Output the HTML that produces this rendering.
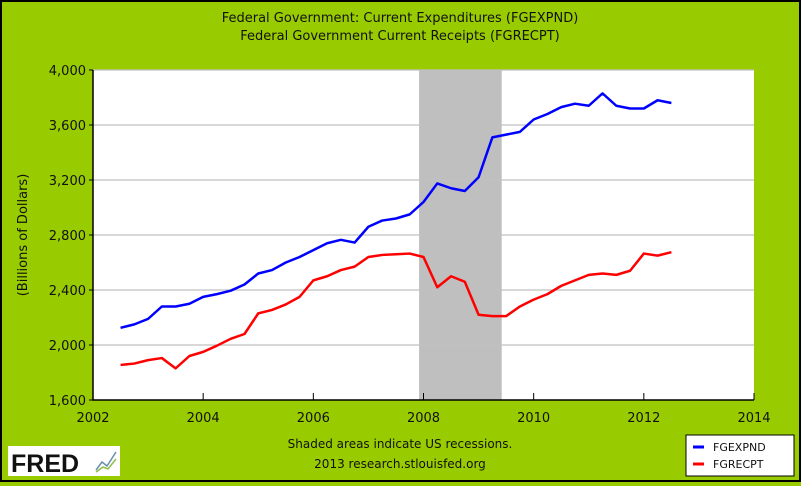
<!DOCTYPE html>
<html><head><meta charset="utf-8"><style>
html,body{margin:0;padding:0}
body{width:801px;height:482px;overflow:hidden;background:#99cc00;font-family:"DejaVu Sans","Liberation Sans",sans-serif}
</style></head><body>
<svg width="801" height="482" xmlns="http://www.w3.org/2000/svg">
<rect x="1" y="1" width="799" height="480" fill="#99cc00" stroke="#000" stroke-width="2"/>
<text x="400" y="22" text-anchor="middle" font-size="13" fill="#111">Federal Government: Current Expenditures (FGEXPND)</text>
<text x="400" y="40" text-anchor="middle" font-size="13" fill="#111">Federal Government Current Receipts (FGRECPT)</text>
<g id="plot"></g>
<text x="400" y="448" text-anchor="middle" font-size="12" fill="#111">Shaded areas indicate US recessions.</text>
<text x="400" y="468" text-anchor="middle" font-size="12" fill="#111">2013 research.stlouisfed.org</text>
<g>
<rect x="8" y="446" width="112" height="30" fill="#fff"/>
<text x="11" y="472" font-size="25" font-weight="bold" fill="#111" font-family="Liberation Sans,sans-serif">FRED</text>
<polyline points="96,470 102,462 107,466 116,452" fill="none" stroke="#6a8fb0" stroke-width="1.5"/>
<polyline points="96,472 103,467 108,469 116,459" fill="none" stroke="#8cbf4a" stroke-width="1.5"/>
</g>
<g>
<rect x="686" y="435" width="108" height="41" fill="#fff" stroke="#000"/>
<line x1="693" y1="447" x2="704" y2="447" stroke="#0000ff" stroke-width="3"/>
<text x="713" y="451" font-size="11" fill="#111">FGEXPND</text>
<line x1="693" y1="464" x2="704" y2="464" stroke="#ff0000" stroke-width="3"/>
<text x="713" y="468" font-size="11" fill="#111">FGRECPT</text>
</g>
</svg>
<script>
const startYear = 2002.5;
const step = 0.25;
const expenditures = [2125,2150,2190,2280,2280,2300,2350,2370,2395,2440,2520,2545,2600,2640,2690,2740,2765,2745,2860,2905,2920,2950,3040,3175,3140,3120,3220,3510,3530,3550,3640,3680,3730,3755,3740,3830,3740,3720,3720,3780,3760];
const receipts = [1855,1865,1890,1905,1830,1920,1950,1995,2045,2080,2230,2255,2295,2350,2470,2500,2545,2570,2640,2655,2660,2665,2640,2420,2500,2460,2220,2210,2210,2280,2330,2370,2430,2470,2510,2520,2510,2540,2665,2650,2675];
const yTicks = [1600,2000,2400,2800,3200,3600,4000];
const xTicks = [2002,2004,2006,2008,2010,2012,2014];
const recession = [2007.92,2009.42];

const NS='http://www.w3.org/2000/svg';
const X0=93,X1=754,Y0=400,Y1=70;
const x=v=>X0+(v-2002)/(2014-2002)*(X1-X0);
const y=v=>Y0-(v-1600)/(4000-1600)*(Y0-Y1);
const g=document.getElementById('plot');
function mk(t,a){const e=document.createElementNS(NS,t);for(const k in a)e.setAttribute(k,a[k]);g.appendChild(e);return e;}
const bg=mk('rect',{x:X0,y:Y1,width:X1-X0,height:Y0-Y1,fill:'#fff'});


const rec=mk('rect',{x:x(recession[0]),y:Y1,width:x(recession[1])-x(recession[0]),height:Y0-Y1,fill:'#bfbfbf'});


yTicks.forEach(v=>{
  if(v>1600){const l=mk('line',{x1:X0,x2:X1,y1:y(v),y2:y(v),stroke:'#c0c0c0','stroke-width':1.2});
  
  }
  const tk=mk('line',{x1:X0-4,x2:X0,y1:y(v),y2:y(v),stroke:'#000'});
  
  
  const t=mk('text',{x:X0-7,y:y(v)+5,'text-anchor':'end','font-size':13,fill:'#111'});
  t.textContent=v.toLocaleString('en-US');
  
  
});
xTicks.forEach(v=>{
  const tk=mk('line',{x1:x(v),x2:x(v),y1:Y0,y2:Y0-7,stroke:'#000'});
  
  
  const t=mk('text',{x:x(v),y:Y0+22,'text-anchor':'middle','font-size':13,fill:'#111'});
  t.textContent=v;
  
  
});
const ax=mk('polyline',{points:`${X0},${Y1} ${X0},${Y0} ${X1},${Y0}`,fill:'none',stroke:'#000','stroke-width':1.5});


const yt=mk('text',{x:0,y:0,transform:`translate(27,235) rotate(-90)`,'text-anchor':'middle','font-size':13,fill:'#111'});
yt.textContent='(Billions of Dollars)';


function line(arr,col,name){
  const p=mk('polyline',{points:arr.map((v,i)=>x(startYear+i*step)+','+y(v)).join(' '),fill:'none',stroke:col,'stroke-width':2.5,'stroke-linejoin':'round'});
  
  
}
line(expenditures,'#0000ff','series-fgexpnd');
line(receipts,'#ff0000','series-fgrecpt');
</script>
</body></html>
